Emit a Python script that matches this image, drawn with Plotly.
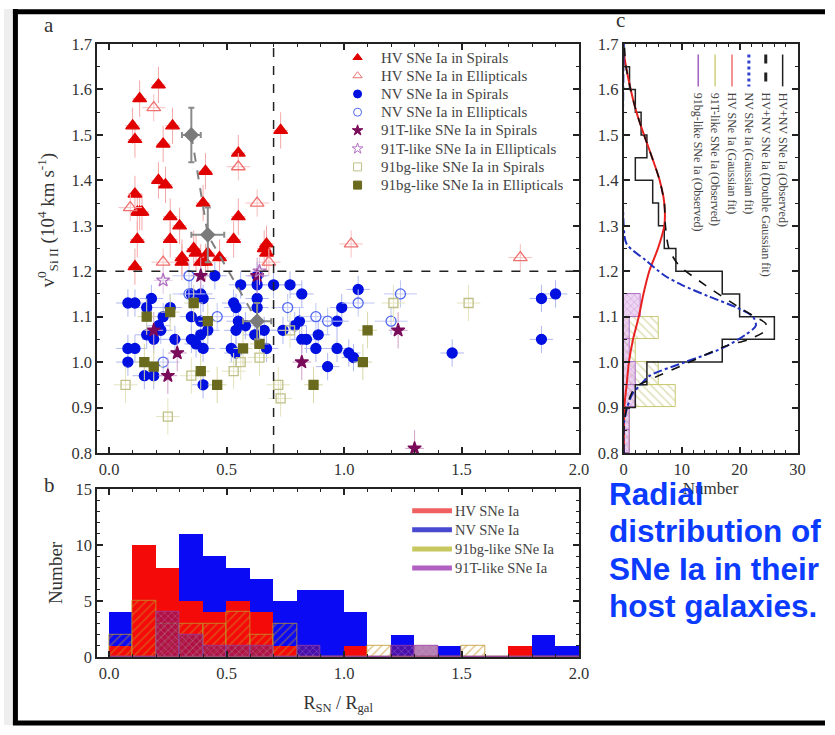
import plotly.graph_objects as go

# ---------------- DATA ----------------
# Panel a: R_SN/R_gal (x) vs v0_SiII (y, 10^4 km/s)
HV_S_X = [0.21, 0.13, 0.10, 0.11, 0.27, 0.23, 0.41, 0.55, 0.73, 0.21, 0.24, 0.11, 0.40, 0.12, 0.13, 0.14, 0.26,
          0.30, 0.55, 0.12, 0.26, 0.53, 0.67, 0.36, 0.37, 0.42, 0.31, 0.31, 0.39, 0.47, 0.67, 0.11, 0.41, 0.66]
HV_S_Y = [1.61, 1.58, 1.52, 1.49, 1.52, 1.48, 1.42, 1.46, 1.51, 1.40, 1.39, 1.37, 1.35, 1.33, 1.33, 1.33, 1.32,
          1.30, 1.32, 1.27, 1.27, 1.27, 1.26, 1.25, 1.24, 1.24, 1.23, 1.22, 1.22, 1.23, 1.24, 1.21, 1.22, 1.25]
HV_E_X = [0.19, 0.55, 0.63, 0.09, 0.23, 0.68, 1.03, 1.75]
HV_E_Y = [1.56, 1.43, 1.35, 1.34, 1.22, 1.22, 1.26, 1.23]
NV_S_X = [0.08, 0.11, 0.18, 0.16, 0.26, 0.23, 0.21, 0.22, 0.16, 0.19, 0.28, 0.08, 0.11, 0.08, 0.15, 0.19,
          0.35, 0.39, 0.40, 0.45, 0.35, 0.39, 0.42, 0.39, 0.35, 0.37, 0.40, 0.40, 0.53, 0.54, 0.56, 0.63,
          0.63, 0.63, 0.63, 0.55, 0.58, 0.54, 0.66, 0.52, 0.54, 0.62, 0.67, 0.70, 0.77, 0.74, 0.79, 0.82,
          0.81, 0.82, 0.84, 0.89, 0.88, 0.93, 0.97, 0.99, 1.06, 0.97, 1.02, 1.04, 1.46, 1.84, 1.90, 1.84]
NV_S_Y = [1.13, 1.13, 1.14, 1.12, 1.12, 1.10, 1.08, 1.07, 1.06, 1.05, 1.05, 1.03, 1.03, 1.00, 0.97, 0.97,
          1.15, 1.15, 1.14, 1.19, 1.10, 1.09, 1.07, 1.06, 1.05, 1.04, 1.03, 0.95, 1.13, 1.12, 1.17, 1.19,
          1.17, 1.14, 1.12, 1.09, 1.08, 1.07, 1.07, 1.03, 1.02, 1.06, 1.03, 1.17, 1.17, 1.07, 1.08, 1.15,
          1.09, 1.05, 1.05, 1.06, 1.03, 0.99, 1.09, 1.12, 1.16, 1.03, 1.02, 1.01, 1.02, 1.14, 1.15, 1.05]
NV_E_X = [0.34, 0.34, 0.23, 0.46, 0.76, 0.88, 0.93, 1.06, 1.24, 1.20]
NV_E_Y = [1.19, 1.15, 1.00, 1.10, 1.12, 1.10, 1.09, 1.13, 1.15, 1.09]
T91_S_X = [0.39, 0.29, 0.25, 0.82, 1.23, 1.30, 0.63, 0.19]
T91_S_Y = [1.19, 1.02, 0.97, 1.00, 1.07, 0.81, 1.19, 1.07]
T91_E_X = [0.23, 0.64]
T91_E_Y = [1.18, 1.20]
BG91_S_X = [0.07, 0.25, 0.35, 0.53, 0.56, 0.64, 0.72, 0.73, 0.77, 1.21, 1.53]
BG91_S_Y = [0.95, 0.88, 0.97, 0.98, 1.00, 1.01, 0.95, 0.92, 1.07, 1.13, 1.13]
BG91_E_X = [0.16, 0.26, 0.36, 0.42, 0.15, 0.19, 0.39, 0.46, 0.57, 0.64, 1.10, 1.08, 0.87]
BG91_E_Y = [1.10, 1.11, 1.13, 1.09, 1.00, 0.99, 0.98, 0.95, 1.03, 1.04, 1.07, 1.00, 0.95]
MEAN_X = [0.35, 0.42, 0.63]
MEAN_Y = [1.50, 1.28, 1.09]
MEAN_EX = [0.04, 0.07, 0.06]
MEAN_EY = [0.06, 0.06, 0.04]
V_CUT = 1.2
R_CUT = 0.7

# Panel b: histograms of R_SN/R_gal (bins of 0.1)
R_BIN_CENTERS = [0.05, 0.15, 0.25, 0.35, 0.45, 0.55, 0.65, 0.75, 0.85, 0.95,
                 1.05, 1.15, 1.25, 1.35, 1.45, 1.55, 1.65, 1.75, 1.85, 1.95]
NV_R_COUNTS = [4, 7, 6, 11, 9, 8, 7, 5, 6, 6, 4, 0, 2, 0, 1, 0, 0, 0, 2, 1]
HV_R_COUNTS = [1, 10, 8, 5, 4, 5, 4, 1, 0, 0, 1, 0, 0, 0, 0, 0, 0, 1, 0, 0]
BG91_R_COUNTS = [2, 5, 3, 3, 3, 4, 2, 3, 0, 0, 0, 1, 0, 0, 0, 1, 0, 0, 0, 0]
T91_R_COUNTS = [0, 0, 4, 2, 1, 1, 1, 0, 1, 0, 0, 0, 1, 1, 0, 0, 0, 0, 0, 0]

# Panel c: histograms of velocity (bins of 0.05)
V_BIN_EDGES = [0.80, 0.85, 0.90, 0.95, 1.00, 1.05, 1.10, 1.15, 1.20, 1.25,
               1.30, 1.35, 1.40, 1.45, 1.50, 1.55, 1.60, 1.65, 1.70]
OBS_V_COUNTS = [0, 0, 2, 4, 17, 26, 20, 17, 9, 7, 6, 5, 2, 4, 3, 2, 1, 0]
BG91_V_COUNTS = [1, 1, 9, 6, 2, 6, 0, 0, 0, 0, 0, 0, 0, 0, 0, 0, 0, 0]
T91_V_COUNTS = [1, 1, 2, 2, 1, 1, 3, 0, 0, 0, 0, 0, 0, 0, 0, 0, 0, 0]
# fit curves (velocity, number)
HV_FIT_V = [0.80, 0.90, 0.95, 1.00, 1.05, 1.10, 1.15, 1.20, 1.25, 1.30, 1.35, 1.40, 1.45, 1.50, 1.55, 1.60, 1.65, 1.68]
HV_FIT_N = [0.0, 0.1, 0.5, 0.9, 1.6, 2.6, 3.4, 4.4, 5.9, 7.0, 7.0, 6.2, 4.9, 3.5, 2.2, 1.2, 0.4, 0.0]
NV_FIT_V = [0.80, 0.86, 0.90, 0.93, 0.95, 0.97, 1.00, 1.03, 1.06, 1.08, 1.10, 1.12, 1.145, 1.17, 1.19, 1.225, 1.26, 1.30, 1.70]
NV_FIT_N = [0.0, 0.0, 0.6, 1.5, 2.9, 4.5, 10.6, 16.9, 21.0, 22.8, 22.3, 19.5, 14.6, 10.0, 7.1, 3.7, 0.5, 0.0, 0.0]
DG_FIT_V = [0.80, 0.85, 0.90, 0.93, 0.945, 0.96, 1.00, 1.035, 1.05, 1.07, 1.085, 1.10, 1.12, 1.17, 1.215, 1.25,
            1.30, 1.35, 1.40, 1.45, 1.50, 1.55, 1.60, 1.65, 1.70]
DG_FIT_N = [0.0, 0.0, 0.5, 1.3, 2.0, 4.3, 11.4, 17.5, 21.6, 24.5, 24.5, 22.6, 20.0, 14.0, 9.4, 7.8,
            7.2, 7.0, 6.2, 4.9, 3.5, 2.2, 1.2, 0.4, 0.1]

LEG_A = ["HV SNe Ia in Spirals", "HV SNe Ia in Ellipticals", "NV SNe Ia in Spirals", "NV SNe Ia in Ellipticals",
         "91T-like SNe Ia in Spirals", "91T-like SNe Ia in Ellipticals", "91bg-like SNe Ia in Spirals",
         "91bg-like SNe Ia in Ellipticals"]
LEG_B = ["HV SNe Ia", "NV SNe Ia", "91bg-like SNe Ia", "91T-like SNe Ia"]
LEG_C = ["HV+NV SNe Ia (Observed)", "HV+NV SNe Ia (Double Gaussian fit)", "NV SNe Ia (Gaussian fit)",
         "HV SNe Ia (Gaussian fit)", "91T-like SNe Ia (Observed)", "91bg-like SNe Ia (Observed)"]
CAPTION = ["Radial", "distribution of", "SNe Ia in their", "host galaxies."]

# ---------------- FIGURE ----------------
FW, FH = 835, 735
# the photographed page maps figure pixels slightly scaled/offset; these place items by window pixel
SX, CX, SY, CY = 0.990, 1.0, 0.978, 6.3
def fx(x): return (x - CX) / SX          # window px -> figure px
def fy(y): return (y - CY) / SY
def px(x): return fx(x) / FW
def py(y): return 1 - fy(y) / FH

SERIF = "Liberation Serif"
fig = go.Figure()

scatter_sets = [
    (HV_S_X, HV_S_Y, "triangle-up", "#E00000", "#F4A8A8", 0.03, 0.04, 12),
    (HV_E_X, HV_E_Y, "triangle-up-open", "#F07070", "#F8C0C0", 0.05, 0.03, 12),
    (NV_S_X, NV_S_Y, "circle", "#0010E0", "#B0B8F0", 0.05, 0.03, 10),
    (NV_E_X, NV_E_Y, "circle-open", "#5068F0", "#C0C8F4", 0.07, 0.03, 10),
    (T91_S_X, T91_S_Y, "star", "#7A0A5A", "#D0A0C8", 0.04, 0.04, 10),
    (T91_E_X, T91_E_Y, "star-open", "#B070C0", "#E0C8E8", 0.04, 0.03, 10),
    (BG91_S_X, BG91_S_Y, "square-open", "#C0C088", "#E4E4C0", 0.05, 0.04, 9),
    (BG91_E_X, BG91_E_Y, "square", "#6A6A1E", "#D8D8A8", 0.04, 0.04, 9),
]
for name, (xs, ys, sym, col, ecol, ex, ey, sz) in zip(LEG_A, scatter_sets):
    fig.add_trace(go.Scatter(
        x=xs, y=ys, mode="markers", name=name, xaxis="x", yaxis="y", showlegend=False,
        marker=dict(symbol=sym, color=col, size=sz, line=dict(color=col, width=1.3)),
        error_x=dict(type="constant", value=ex, color=ecol, thickness=1, width=0),
        error_y=dict(type="constant", value=ey, color=ecol, thickness=1, width=0),
    ))

fig.add_trace(go.Scatter(
    x=MEAN_X, y=MEAN_Y, mode="lines+markers", showlegend=False, xaxis="x", yaxis="y",
    line=dict(color="#808080", width=2, dash="dash"),
    marker=dict(symbol="diamond", size=12, color="#7A7A7A"),
    error_x=dict(type="data", array=MEAN_EX, color="#8A8A8A", thickness=2, width=3),
    error_y=dict(type="data", array=MEAN_EY, color="#8A8A8A", thickness=2, width=3),
))

# Panel b histograms
fig.add_trace(go.Bar(x=R_BIN_CENTERS, y=NV_R_COUNTS, width=0.1, xaxis="x2", yaxis="y2", showlegend=False,
                     marker=dict(color="#0A0AF5", line=dict(width=0))))
fig.add_trace(go.Bar(x=R_BIN_CENTERS, y=HV_R_COUNTS, width=0.1, xaxis="x2", yaxis="y2", showlegend=False,
                     marker=dict(color="#F50A0A", line=dict(width=0))))
fig.add_trace(go.Bar(x=R_BIN_CENTERS, y=BG91_R_COUNTS, width=0.1, xaxis="x2", yaxis="y2", showlegend=False,
                     marker=dict(color="rgba(0,0,0,0)", line=dict(width=1, color="rgba(190,150,40,0.8)"),
                                 pattern=dict(shape="/", fgcolor="#C89020", bgcolor="rgba(0,0,0,0)",
                                              size=6, solidity=0.25))))
fig.add_trace(go.Bar(x=R_BIN_CENTERS, y=T91_R_COUNTS, width=0.1, xaxis="x2", yaxis="y2", showlegend=False,
                     marker=dict(color="rgba(0,0,0,0)", line=dict(width=1, color="rgba(150,60,160,0.8)"),
                                 pattern=dict(shape="x", fgcolor="#D0A0E0", bgcolor="rgba(120,20,110,0.55)",
                                              size=5, solidity=0.2))))

# Panel c histograms
v_centers = [(a + b) / 2 for a, b in zip(V_BIN_EDGES[:-1], V_BIN_EDGES[1:])]
fig.add_trace(go.Bar(y=v_centers, x=BG91_V_COUNTS, width=0.05, orientation="h", xaxis="x3", yaxis="y3",
                     showlegend=False,
                     marker=dict(color="rgba(0,0,0,0)", line=dict(width=1, color="#C8C870"),
                                 pattern=dict(shape="\\", fgcolor="#C0C070", bgcolor="rgba(0,0,0,0)",
                                              size=6, solidity=0.25))))
fig.add_trace(go.Bar(y=v_centers, x=T91_V_COUNTS, width=0.05, orientation="h", xaxis="x3", yaxis="y3",
                     showlegend=False,
                     marker=dict(color="rgba(0,0,0,0)", line=dict(width=1, color="#B070C0"),
                                 pattern=dict(shape="x", fgcolor="#B060C0", bgcolor="rgba(220,170,230,0.5)",
                                              size=5, solidity=0.2))))
sx, sy = [0], [V_BIN_EDGES[0]]
for c, lo, hi in zip(OBS_V_COUNTS, V_BIN_EDGES[:-1], V_BIN_EDGES[1:]):
    sx += [c, c]
    sy += [lo, hi]
sx.append(0)
sy.append(V_BIN_EDGES[-1])
fig.add_trace(go.Scatter(x=sx, y=sy, mode="lines", xaxis="x3", yaxis="y3", showlegend=False,
                         line=dict(color="#222", width=1.5)))
fig.add_trace(go.Scatter(x=HV_FIT_N, y=HV_FIT_V, mode="lines", xaxis="x3", yaxis="y3", showlegend=False,
                         line=dict(color="#E82020", width=2, shape="spline", smoothing=0.8)))
fig.add_trace(go.Scatter(x=NV_FIT_N, y=NV_FIT_V, mode="lines", xaxis="x3", yaxis="y3", showlegend=False,
                         line=dict(color="#2030C0", width=2, dash="dashdot", shape="spline", smoothing=0.8)))
fig.add_trace(go.Scatter(x=DG_FIT_N, y=DG_FIT_V, mode="lines", xaxis="x3", yaxis="y3", showlegend=False,
                         line=dict(color="#111", width=1.6, dash="dash", shape="spline", smoothing=0.8)))

# legend glyphs for panel a on a hidden full-figure overlay axis (window pixel coordinates)
LEG_A_X0, LEG_A_Y0, LEG_A_DY = 357, 55, 18.3
fig.add_trace(go.Scatter(
    x=[LEG_A_X0] * len(LEG_A), y=[LEG_A_Y0 + i * LEG_A_DY for i in range(len(LEG_A))],
    mode="markers", xaxis="x4", yaxis="y4", showlegend=False, hoverinfo="skip",
    marker=dict(symbol=[s[2] for s in scatter_sets], color=[s[3] for s in scatter_sets], size=8,
                line=dict(color=[s[3] for s in scatter_sets], width=1)),
))

# ---------------- AXES ----------------
def axis(**kw):
    d = dict(showline=True, linewidth=2, linecolor="#222", mirror="allticks", ticks="inside", ticklen=6,
             tickwidth=1.5, tickcolor="#222", showgrid=False, zeroline=False,
             tickfont=dict(family=SERIF, size=16.5, color="#333"))
    d.update(kw)
    return d

def minor(dt):
    return dict(ticks="inside", ticklen=3, tickwidth=1.2, tickcolor="#222", dtick=dt, showgrid=False)

ya_dom = [py(452), py(41.5)]
fig.update_layout(
    width=FW, height=FH, margin=dict(l=0, r=0, t=0, b=0), showlegend=False,
    paper_bgcolor="white", plot_bgcolor="rgba(0,0,0,0)", barmode="overlay", bargap=0,
    font=dict(family=SERIF, color="#333"),
    xaxis=axis(domain=[px(95), px(580)], range=[-0.05, 2.0], anchor="y", dtick=0.5, tick0=0,
               tickformat=".1f", minor=minor(0.1)),
    yaxis=axis(domain=ya_dom, range=[0.8, 1.7], anchor="x", dtick=0.1, tick0=0.8, tickformat=".1f",
               minor=minor(0.05)),
    xaxis2=axis(domain=[px(95), px(580)], range=[-0.05, 2.0], anchor="y2", dtick=0.5, tick0=0,
                tickformat=".1f", minor=minor(0.1),
                title=dict(text="R<sub>SN</sub> / R<sub>gal</sub>", font=dict(family=SERIF, size=18, color="#333"),
                           standoff=14)),
    yaxis2=axis(domain=[py(657), py(488)], range=[0, 15], anchor="x2", dtick=5, minor=minor(1),
                title=dict(text="Number", font=dict(family=SERIF, size=19, color="#333"), standoff=8)),
    xaxis3=axis(domain=[px(625), px(800)], range=[0, 30], anchor="y3", dtick=10, minor=minor(2),
                title=dict(text="Number", font=dict(family=SERIF, size=17, color="#333"), standoff=4)),
    yaxis3=axis(domain=ya_dom, range=[0.8, 1.7], anchor="x3", dtick=0.1, tick0=0.8, tickformat=".1f",
                minor=minor(0.05)),
    xaxis4=dict(domain=[0, 1], range=[CX, CX + SX * FW], anchor="y4", visible=False, fixedrange=True),
    yaxis4=dict(domain=[0, 1], range=[CY + SY * FH, CY], anchor="x4", visible=False, fixedrange=True),
)

shapes = []
annots = []
# reference cuts in panel a
shapes.append(dict(type="line", xref="x", yref="y", x0=R_CUT, x1=R_CUT, y0=0.8, y1=1.7,
                   line=dict(color="#222", width=1.5, dash="dash")))
shapes.append(dict(type="line", xref="x domain", yref="y", x0=0, x1=1, y0=V_CUT, y1=V_CUT,
                   line=dict(color="#222", width=1.5, dash="dash")))

# panel a legend texts
for i, lab in enumerate(LEG_A):
    annots.append(dict(text=lab, xref="paper", yref="paper", x=px(379), y=py(LEG_A_Y0 + i * LEG_A_DY),
                       xanchor="left", yanchor="middle", showarrow=False,
                       font=dict(family=SERIF, size=15, color="#444")))

# y title of panel a
annots.append(dict(text="v<sup>0</sup><sub>Si II</sub> (10<sup>4</sup> km s<sup>-1</sup>)", xref="paper",
                   yref="paper", x=px(45), y=py(218), xanchor="center", yanchor="middle", textangle=-90,
                   showarrow=False, font=dict(family=SERIF, size=19, color="#333")))
# panel letters
for t, x, y in [("a", 46, 22), ("b", 47, 484), ("c", 622, 17)]:
    annots.append(dict(text=t, xref="paper", yref="paper", x=px(x), y=py(y), xanchor="center",
                       yanchor="middle", showarrow=False, font=dict(family=SERIF, size=21, color="#333")))

# panel b legend
leg_b_cols = ["#F06060", "#4848D0", "#C8C860", "#B060C0"]
for i, (lab, col) in enumerate(zip(LEG_B, leg_b_cols)):
    yy = 510 + i * 19.2
    shapes.append(dict(type="line", xref="paper", yref="paper", x0=px(412), x1=px(452), y0=py(yy), y1=py(yy),
                       line=dict(color=col, width=5)))
    annots.append(dict(text=lab, xref="paper", yref="paper", x=px(453), y=py(yy), xanchor="left",
                       yanchor="middle", showarrow=False, font=dict(family=SERIF, size=14.5, color="#444")))

# panel c legend (rotated)
leg_c_x = [785, 768, 751, 734, 717, 700]
leg_c_style = [("#222", "solid"), ("#222", "dash"), ("#3040D0", "dot"), ("#F07070", "solid"),
               ("#D0D080", "solid"), ("#A060C0", "solid")]
for lab, x, (col, dash) in zip(LEG_C, leg_c_x, leg_c_style):
    shapes.append(dict(type="line", xref="paper", yref="paper", x0=px(x), x1=px(x), y0=py(52), y1=py(84),
                       line=dict(color=col, width=1.5 if dash == "solid" else 3, dash=dash)))
    annots.append(dict(text=lab, xref="paper", yref="paper", x=px(x), y=py(88), xanchor="center",
                       yanchor="top", textangle=90, showarrow=False,
                       font=dict(family=SERIF, size=12, color="#444")))

# caption
for i, line in enumerate(CAPTION):
    annots.append(dict(text=line, xref="paper", yref="paper", x=px(608), y=py(493 + i * 37.7), xanchor="left",
                       yanchor="middle", showarrow=False,
                       font=dict(family="Liberation Sans", size=31.5, color="#0B3BFF", weight="bold")))

# outer frame
shapes += [
    dict(type="rect", xref="paper", yref="paper", x0=0, x1=px(10), y0=0, y1=1, fillcolor="#EEEEEE",
         line=dict(width=0), layer="below"),
    dict(type="line", xref="paper", yref="paper", x0=px(12.5), x1=px(12.5), y0=0, y1=1,
         line=dict(color="#000", width=5)),
    dict(type="line", xref="paper", yref="paper", x0=px(10), x1=1, y0=py(9), y1=py(9),
         line=dict(color="#000", width=5)),
    dict(type="line", xref="paper", yref="paper", x0=px(10), x1=1, y0=py(723), y1=py(723),
         line=dict(color="#000", width=5)),
]

fig.update_layout(shapes=shapes, annotations=annots)
fig.write_html("out.html")
